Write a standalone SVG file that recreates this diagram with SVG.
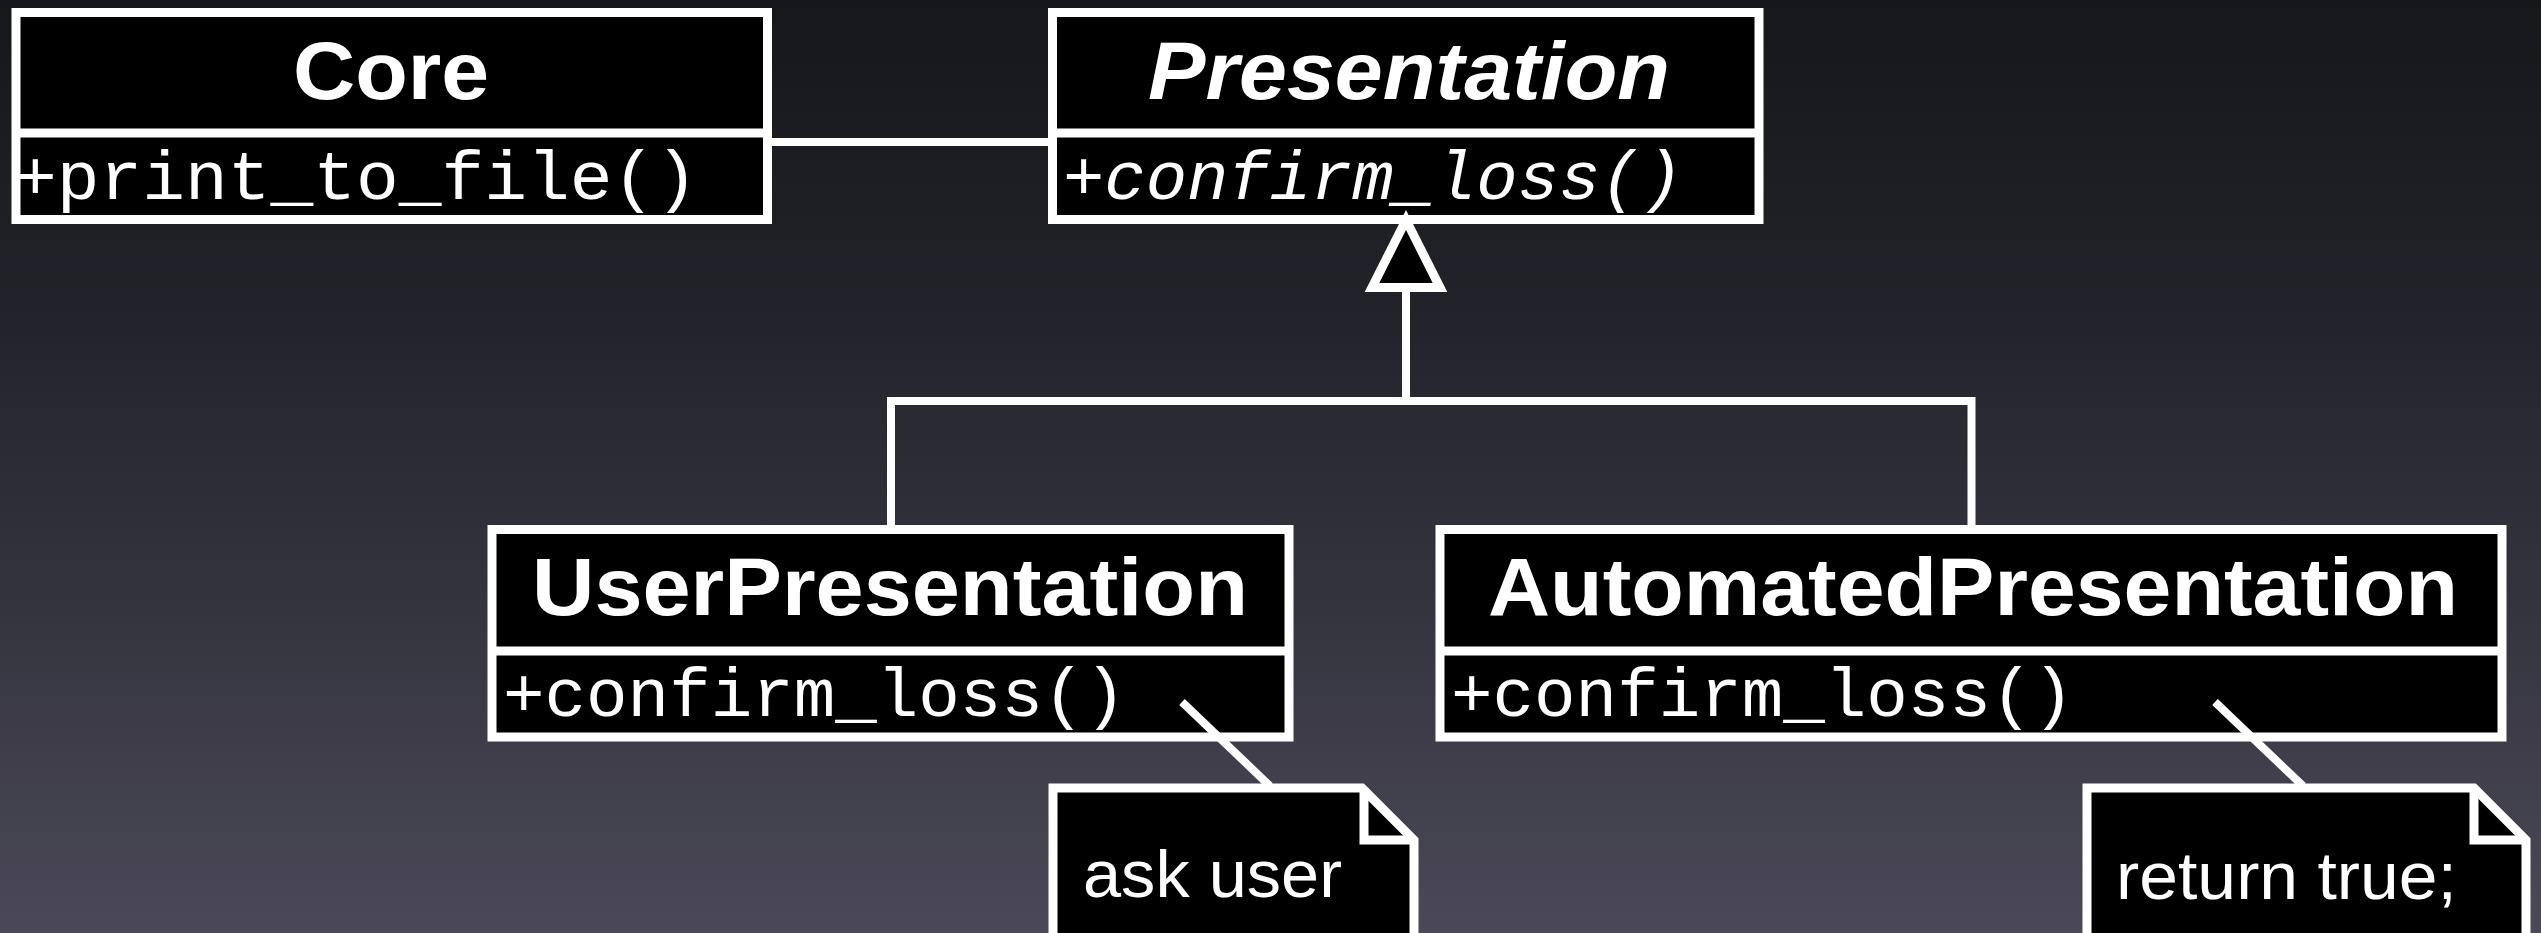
<svg xmlns="http://www.w3.org/2000/svg" width="2541" height="933" viewBox="0 0 2541 933">
<defs>
<linearGradient id="bg" x1="0" y1="0" x2="0" y2="1">
<stop offset="0" stop-color="#16171b"/>
<stop offset="0.35" stop-color="#23242b"/>
<stop offset="0.65" stop-color="#34343f"/>
<stop offset="1" stop-color="#4b4957"/>
</linearGradient>
<style>
.box{fill:#000;stroke:#fff;stroke-width:9}
.div{stroke:#fff;stroke-width:9;fill:none}
.ln{stroke:#fff;stroke-width:8;fill:none;stroke-linejoin:miter}
.hd{font-family:"Liberation Sans",Arial,sans-serif;font-weight:bold;font-size:81px;fill:#fff}
.it{font-style:italic}
.mt{font-family:"Liberation Mono","Courier New",monospace;font-size:69px;fill:#fff}
.nt{font-family:"Liberation Sans",Arial,sans-serif;font-size:67px;fill:#fff}
</style>
</defs>
<rect x="0" y="0" width="2541" height="933" fill="url(#bg)"/>

<g id="core">
<rect class="box" x="16" y="12.5" width="751.5" height="207"/>
<line class="div" x1="16" y1="133" x2="767.5" y2="133"/>
<text class="hd" x="293" y="99" textLength="196" lengthAdjust="spacingAndGlyphs">Core</text>
<text class="mt" x="14" y="199" textLength="684" lengthAdjust="spacingAndGlyphs">+print_to_file()</text>
</g>

<g id="presentation">
<rect class="box" x="1052.5" y="12.5" width="706.5" height="207"/>
<line class="div" x1="1052.5" y1="133" x2="1759" y2="133"/>
<text class="hd it" x="1148" y="99" textLength="522" lengthAdjust="spacingAndGlyphs">Presentation</text>
<text class="mt it" x="1063" y="199" textLength="620" lengthAdjust="spacingAndGlyphs">+confirm_loss()</text>
</g>

<g id="userPresentation">
<rect class="box" x="492" y="529.5" width="797" height="207.5"/>
<line class="div" x1="492" y1="651" x2="1289" y2="651"/>
<text class="hd" x="532" y="615" textLength="716" lengthAdjust="spacingAndGlyphs">UserPresentation</text>
<text class="mt" x="503" y="716" textLength="623" lengthAdjust="spacingAndGlyphs">+confirm_loss()</text>
</g>

<g id="automatedPresentation">
<rect class="box" x="1440" y="529.5" width="1062" height="207.5"/>
<line class="div" x1="1440" y1="651" x2="2502" y2="651"/>
<text class="hd" x="1488" y="615" textLength="970" lengthAdjust="spacingAndGlyphs">AutomatedPresentation</text>
<text class="mt" x="1451" y="716" textLength="623" lengthAdjust="spacingAndGlyphs">+confirm_loss()</text>
</g>

<g id="note-ask-user">
<path class="box" d="M1053,960 V788 H1362 L1414,840 V960 Z"/>
<path class="div" d="M1364,788 V840 H1414"/>
<text class="nt" x="1083" y="897" textLength="259" lengthAdjust="spacingAndGlyphs">ask user</text>
</g>

<g id="note-return-true">
<path class="box" d="M2087,960 V788 H2474 L2526,840 V960 Z"/>
<path class="div" d="M2474,788 V840 H2526"/>
<text class="nt" x="2116" y="899" textLength="341" lengthAdjust="spacingAndGlyphs">return true;</text>
</g>

<g id="connectors">
<line class="ln" x1="767" y1="142" x2="1053" y2="142" stroke-width="9"/>
<path class="ln" d="M891,529 V401 H1971.5 V529"/>
<path class="ln" d="M1406,287 V401"/>
<path d="M1406,220 L1440,287.5 L1372,287.5 Z" fill="#000" stroke="#fff" stroke-width="9" stroke-linejoin="miter"/>
<line class="ln" x1="1182" y1="702" x2="1270" y2="786"/>
<line class="ln" x1="2215" y1="702" x2="2303" y2="786"/>
</g>
</svg>
